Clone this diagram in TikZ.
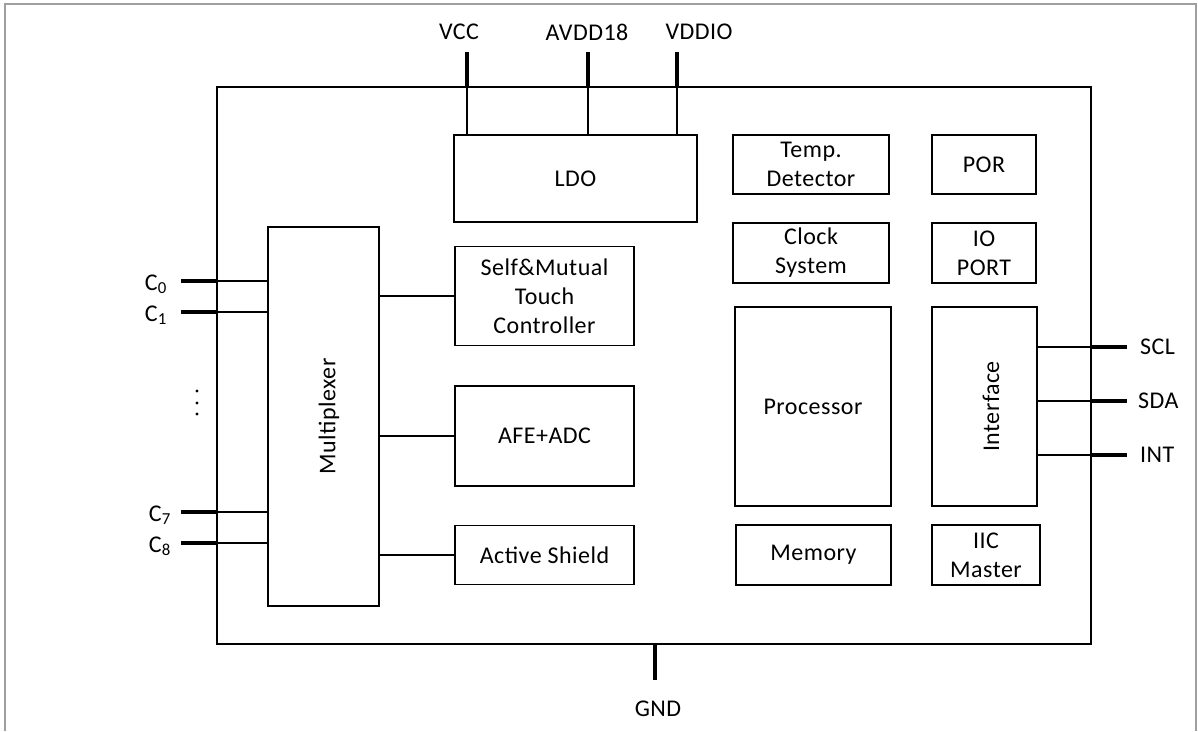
\documentclass[tikz,border=0pt]{standalone}
\usepackage{fontspec}
\setmainfont{Carlito}[LetterSpace=2]
\begin{document}
\begin{tikzpicture}[x=1pt,y=-1pt,
  every node/.style={font=\fontsize{24}{29}\selectfont, inner sep=0pt},
  blk/.style={draw, line width=1.9pt, inner sep=0pt, align=center},
  wire/.style={line width=1.8pt},
  pin/.style={line width=4.8pt},
  lbl/.style={inner sep=0pt}
]
\useasboundingbox (0,0) rectangle (1198,731);
\draw[gray!75, line width=1.6pt] (5,731) -- (5,4) -- (1196,4) -- (1196,731);

% chip outline
\node[blk, minimum width=874pt, minimum height=557pt] (chip) at (654,365.5) {};

% blocks
\node[blk, minimum width=243pt, minimum height=87pt] (ldo) at (575.5,178.5) {LDO};
\node[blk, minimum width=156pt, minimum height=59pt] (temp) at (811,164.5) {Temp.\\Detector};
\node[blk, minimum width=104pt, minimum height=59pt] (por) at (984,164.5) {POR};
\node[blk, minimum width=156pt, minimum height=60pt] (clk) at (811,253) {Clock\\System};
\node[blk, minimum width=104pt, minimum height=60pt] (io) at (984,253) {IO\\PORT};
\node[blk, minimum width=111pt, minimum height=379pt] (mux) at (323.5,416.5) {};
\node[lbl, rotate=90] (muxt) at (329,416.5) {Multiplexer};
\node[blk, minimum width=179pt, minimum height=99pt] (smt) at (544.5,296) {Self\&Mutual\\Touch\\Controller};
\node[blk, minimum width=179pt, minimum height=100pt] (afe) at (544.5,436) {AFE+ADC};
\node[blk, minimum width=179pt, minimum height=59pt] (as) at (544.5,555) {Active Shield};
\node[blk, minimum width=156pt, minimum height=199pt] (proc) at (813,406.5) {Processor};
\node[blk, minimum width=105pt, minimum height=199pt] (intf) at (984.5,406.5) {};
\node[lbl, rotate=90] (intft) at (991,406.5) {Interface};
\node[blk, minimum width=155pt, minimum height=60pt] (mem) at (813.5,555) {Memory};
\node[blk, minimum width=108pt, minimum height=60pt] (iic) at (986,555) {IIC\\Master};

% supply pins
\coordinate (vcc) at (467,52);
\coordinate (avdd) at (588,52);
\coordinate (vddio) at (677,52);
\foreach \p in {vcc,avdd,vddio}{
  \draw[pin] (\p) -- (\p |- chip.north);
  \draw[wire] (\p |- chip.north) -- (\p |- ldo.north);
}
\node[lbl] (vccl) at (459,32) {VCC};
\node[lbl] (avddl) at (587,32) {AVDD18};
\node[lbl] (vddiol) at (699,32) {VDDIO};

% channel pins
\coordinate (c0) at (181,281);
\coordinate (c1) at (181,312);
\coordinate (c7) at (181,512);
\coordinate (c8) at (181,543);
\foreach \p in {c0,c1,c7,c8}{
  \draw[pin] (\p) -- (\p -| chip.west);
  \draw[wire] (\p -| chip.west) -- (\p -| mux.west);
}
\node[lbl, anchor=base east] (c0l) at (167,290) {C\textsubscript{0}};
\node[lbl, anchor=base east] (c1l) at (167,321) {C\textsubscript{1}};
\node[lbl, anchor=base east] (c7l) at (171,521) {C\textsubscript{7}};
\node[lbl, anchor=base east] (c8l) at (171,552) {C\textsubscript{8}};
\fill (197,391) circle (1.7pt);
\fill (197,403) circle (1.7pt);
\fill (197,414) circle (1.7pt);

% mux to analog blocks
\draw[wire] (smt.west -| mux.east) -- (smt.west);
\draw[wire] (afe.west -| mux.east) -- (afe.west);
\draw[wire] (as.west -| mux.east) -- (as.west);

% interface pins
\coordinate (scl) at (1127,347);
\coordinate (sda) at (1127,401);
\coordinate (int) at (1127,455);
\foreach \p in {scl,sda,int}{
  \draw[wire] (\p -| intf.east) -- (\p -| chip.east);
  \draw[pin] (\p -| chip.east) -- (\p);
}
\node[lbl, anchor=west] (scll) at (1140,347) {SCL};
\node[lbl, anchor=west] (sdal) at (1138,401) {SDA};
\node[lbl, anchor=west] (intl) at (1140,455) {INT};

% ground
\coordinate (gnd) at (655,680);
\draw[pin] (gnd |- chip.south) -- (gnd);
\node[lbl] (gndl) at (658,709) {GND};
\end{tikzpicture}
\end{document}
